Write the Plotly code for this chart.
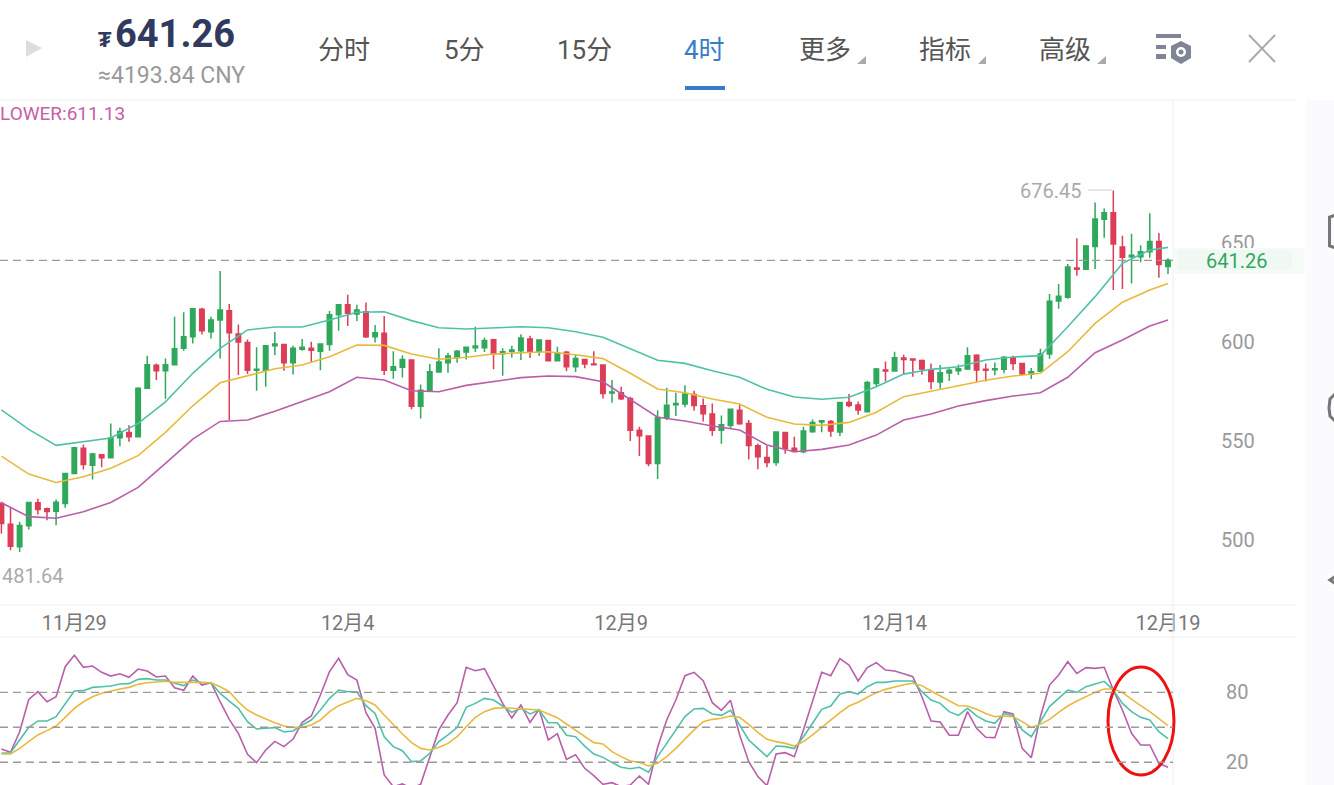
import pandas as pd
import plotly.graph_objects as go

# 4 hour candles, last one sits on the 12月19 tick
opens = [518.5,508.0,496.6,507.2,518.8,515.8,514.6,518.5,533.6,546.4,537.8,543.1,541.5,551.6,554.3,552.1,576.6,588.2,585.5,588.5,
         596.8,602.7,616.6,605.2,611.1,615.8,604.0,599.8,585.8,585.8,598.1,598.8,589.5,596.4,596.9,595.3,598.8,613.8,618.8,614.1,
         615.3,602.7,604.4,585.7,587.2,590.9,567.6,575.7,584.8,589.5,592.2,594.9,597.1,597.1,601.2,594.1,595.3,595.6,601.5,595.3,
         600.8,590.5,594.8,587.5,591.2,588.9,588.4,574.2,574.4,571.5,555.4,552.5,538.7,561.9,568.3,568.7,573.5,567.8,563.6,555.5,
         557.9,565.6,558.9,547.6,541.7,539.2,554.3,546.4,544.6,554.7,559.6,559.8,554.5,569.4,568.2,564.8,579.1,585.9,585.4,591.9,
         591.4,590.7,585.5,579.8,584.3,585.5,586.4,593.3,586.2,586.0,586.2,592.1,589.1,583.7,585.2,593.9,620.7,622.6,637.4,636.7,
         648.2,662.0,665.3,648.0,643.1,643.1,645.6,650.7,638.1]
highs = [519.3,516.4,509.2,519.3,520.8,516.4,520.5,533.6,547.1,548.3,544.1,543.1,558.9,556.7,558.0,577.1,593.1,589.2,591.7,612.8,
         615.0,616.8,617.3,612.8,635.8,619.2,608.9,601.3,597.3,598.5,605.0,598.8,598.1,601.5,600.1,599.0,615.6,619.2,623.9,618.8,
         620.0,608.6,613.1,595.3,593.2,590.9,578.6,588.9,596.9,594.6,595.9,597.6,607.7,602.3,601.7,596.9,598.1,603.9,603.2,601.0,
         600.8,597.6,595.6,593.4,591.2,595.3,588.7,580.8,577.4,572.4,557.2,552.5,565.6,576.9,574.4,578.1,575.4,571.5,569.0,562.9,
         566.0,568.3,560.6,548.8,547.6,554.8,554.3,552.2,557.2,560.9,560.6,560.6,569.5,573.7,569.9,580.3,586.9,590.1,595.1,593.6,
         591.8,591.2,589.2,588.4,586.7,588.6,597.3,593.8,589.2,589.6,592.9,593.1,589.2,586.9,596.6,624.3,629.3,639.4,652.4,649.0,
         670.4,667.4,676.45,653.7,654.6,648.8,665.0,655.1,642.3]
lows = [503.3,494.9,494.0,505.3,512.9,510.0,507.5,516.3,533.6,535.6,530.6,536.7,541.2,547.4,549.6,551.8,576.6,580.8,571.3,588.5,
        595.6,599.3,603.8,601.8,591.7,560.6,583.3,583.8,575.4,577.4,593.4,585.5,583.6,595.6,589.5,585.8,595.6,605.7,608.1,610.6,
        602.0,599.8,583.3,581.5,582.1,566.0,561.4,575.7,584.8,584.5,589.5,591.2,594.9,594.9,586.3,583.0,592.2,590.9,591.9,592.9,
        590.3,590.3,585.2,584.8,586.8,588.5,571.5,569.3,570.7,550.0,542.4,537.3,530.8,560.6,562.6,567.0,565.3,559.9,552.7,548.6,
        556.4,558.2,540.7,535.8,536.7,537.5,543.6,544.7,543.8,554.2,554.4,552.2,552.5,567.0,563.3,564.6,577.8,580.1,585.4,583.8,
        582.5,583.5,576.1,576.4,580.3,583.3,585.9,579.8,580.1,583.2,584.2,585.9,583.3,581.3,585.0,591.6,616.8,621.9,633.5,636.4,
        636.9,652.7,626.3,626.8,629.6,640.3,642.6,632.5,634.4]
closes = [508.4,496.9,507.4,519.0,515.4,514.4,519.1,533.6,546.6,538.2,543.4,541.5,551.5,554.8,552.1,576.7,588.5,585.5,588.5,596.6,
          602.7,616.8,605.7,611.1,616.1,604.7,600.0,585.7,586.3,598.1,599.0,589.5,596.9,597.3,595.8,599.0,613.8,618.8,614.5,616.1,
          602.7,604.7,585.7,587.5,591.2,567.6,575.7,585.0,589.9,592.9,595.3,597.3,598.0,600.8,593.9,595.1,595.9,602.0,594.8,601.0,
          590.5,594.3,587.5,591.7,588.9,588.5,574.0,574.7,571.4,555.5,552.7,538.7,561.9,568.1,569.0,573.7,568.0,563.8,555.5,558.2,
          566.0,558.7,547.8,542.0,539.2,554.5,546.3,544.7,555.0,559.3,560.3,555.0,569.5,568.0,565.7,579.6,586.4,585.4,592.1,591.2,
          590.9,586.4,580.0,584.5,585.7,586.5,593.1,585.9,585.7,586.5,592.3,589.2,583.8,585.0,593.9,620.6,623.1,637.9,636.7,648.5,
          662.1,665.3,649.5,642.8,643.8,645.6,650.7,639.1,641.26]

boll_upper = [565.7,555.9,547.8,549.6,551.5,558.9,569.8,584.2,596.8,606.1,607.6,607.6,611.1,615.0,615.3,610.8,607.2,606.6,607.2,607.7,
              607.2,605.2,602.4,596.8,590.8,589.2,585.5,582.2,576.1,572.2,571.1,572.1,577.4,583.8,586.2,587.5,590.9,592.4,593.1,607.7,
              622.9,639.7,646.5,647.8]
boll_mid = [542.4,533.3,529.1,532.0,536.2,542.6,554.4,567.8,579.4,583.0,586.5,588.4,592.6,598.5,598.3,593.9,591.3,592.3,593.9,594.6,
            595.1,593.6,591.6,584.2,576.3,574.4,571.2,568.7,562.0,558.6,557.9,559.4,564.5,572.4,575.3,577.9,580.7,582.8,584.2,595.1,
            609.4,620.1,626.3,629.6]
boll_lower = [518.8,511.8,511.0,514.3,519.0,526.6,538.7,551.0,559.9,560.6,565.0,569.8,574.9,582.2,580.8,575.4,574.9,578.1,579.9,582.0,
              582.8,582.5,579.9,571.1,562.0,560.1,557.6,555.6,548.0,544.6,545.8,548.0,553.0,560.6,563.6,567.7,570.4,572.7,574.4,582.2,
              594.6,601.0,608.1,611.13]

kdj_k = [27.7,28.2,39.1,49.9,55.4,55.4,59.1,70.5,81.1,81.4,84.2,84.8,85.4,87.1,87.4,91.1,91.7,90.5,90.5,87.7,
         85.7,90.5,88.2,88.2,79.1,72.5,66.2,54.8,48.5,49.1,49.7,45.9,46.8,51.9,56.2,64.8,74.8,81.9,80.5,80.5,
         68.5,61.9,41.9,33.4,29.9,20.5,21.1,27.7,37.7,43.4,49.7,67.1,70.5,74.8,73.4,68.2,62.8,66.2,61.4,64.8,
         53.9,53.9,43.1,41.9,33.9,27.1,24.2,19.7,15.7,14.5,15.7,11.4,24.8,36.2,47.7,59.1,65.7,66.2,61.4,60.2,
         64.5,51.9,39.1,31.9,24.8,33.9,33.4,31.7,41.9,53.4,65.4,68.2,78.5,80.5,78.5,84.8,88.5,88.5,89.7,89.7,
         89.7,80.5,73.4,70.5,63.4,60.2,66.2,59.7,55.4,53.4,61.9,59.7,47.7,41.9,54.8,67.7,74.8,81.9,79.9,84.8,
         87.1,89.4,81.9,70.5,63.4,58.5,56.2,46.2,40.2]
kdj_d = [27.1,27.1,31.9,37.7,43.4,47.1,51.1,58.5,66.2,71.9,76.2,79.1,81.1,82.8,84.2,86.8,88.2,89.1,89.4,88.5,
         88.2,88.5,88.5,88.2,84.8,80.5,71.9,64.8,60.5,57.1,53.9,51.1,49.9,49.9,51.9,56.2,63.4,68.5,71.9,74.8,
         72.8,69.1,60.5,51.9,44.2,36.8,31.9,30.5,32.8,36.2,41.9,50.5,58.5,63.4,66.2,66.8,66.2,65.7,64.8,64.8,
         61.4,58.2,52.8,47.7,42.5,36.8,35.7,29.1,24.8,21.1,19.9,16.8,19.1,24.8,31.9,39.9,47.7,54.8,56.8,57.7,
         59.7,58.5,52.5,45.7,39.7,37.7,36.2,33.9,37.7,43.4,49.9,56.2,62.5,68.2,71.4,75.7,79.7,82.5,84.8,86.5,
         87.7,85.7,81.1,76.8,72.5,68.5,68.2,65.4,61.9,59.1,59.7,59.1,54.8,49.9,52.5,56.8,62.8,68.2,72.5,76.2,
         79.9,82.8,82.8,79.7,74.0,68.5,63.4,57.7,51.4]
kdj_j = [31.4,28.5,46.2,73.9,80.5,71.9,76.2,101.9,111.7,101.4,102.5,97.1,93.9,95.9,92.8,99.9,98.2,93.1,93.9,83.9,
         81.7,93.9,86.2,88.2,71.9,56.8,44.8,26.8,19.7,30.5,37.9,33.4,39.9,54.2,59.7,77.7,97.7,109.1,95.1,90.5,
         62.5,49.1,9.1,-0.9,1.4,-2.3,1.1,24.8,47.7,60.5,71.1,101.4,98.5,100.2,84.8,70.5,57.9,69.1,54.2,65.4,
         39.1,44.5,22.5,26.5,14.8,8.5,1.1,2.5,-0.9,0.5,8.2,1.1,32.8,56.2,73.4,94.2,97.1,89.9,71.1,64.5,
         73.1,43.4,20.5,7.7,-0.1,27.1,28.2,24.8,47.7,73.4,97.1,94.2,108.8,103.4,89.7,101.1,105.4,99.1,98.2,95.9,
         93.4,76.2,55.4,54.5,43.1,43.1,63.4,49.1,41.4,41.1,63.4,61.4,31.9,23.9,59.1,86.2,94.8,106.2,96.2,101.1,
         100.5,101.4,81.9,64.8,44.8,34.8,34.8,19.1,15.7]

price_ticks = [500, 550, 600, 650]
kdj_ticks = [20, 80]
kdj_levels = [20, 50, 80]
date_ticks = ["2017-11-29", "2017-12-04", "2017-12-09", "2017-12-14", "2017-12-19"]
date_labels = ["11月29", "12月4", "12月9", "12月14", "12月19"]
last_price = 641.26

menu_items = ["分时", "5分", "15分", "4时", "更多", "指标", "高级"]
menu_centers = [344, 464, 584, 704, 825, 945, 1065]

WIDTH = 1334
HEIGHT = 785
CJK = "Roboto, 'Noto Sans CJK SC', sans-serif"
GREEN = "#2fa85c"
RED = "#dc3d57"
TEAL = "#4fc1a9"
YELLOW = "#e8b93c"
PURPLE = "#b95fa9"
GREY = "#9a9a9a"
LINE = "#eeeeee"


# screen pixel to paper fraction
def px(x):
    return x / WIDTH


def py(y):
    return 1 - y / HEIGHT


def poly(points, close=True):
    path = "M" + " L".join(f"{px(x):.5f},{py(y):.5f}" for x, y in points)
    return path + (" Z" if close else "")


def label(x, y, text, size, color, anchor="center", weight=None):
    return dict(x=px(x), y=py(y), xref="paper", yref="paper", text=text, showarrow=False, xanchor=anchor,
                yanchor="middle", font=dict(family=CJK, size=size, color=color, weight=weight))


def rect(x0, y0, x1, y1, color):
    return dict(type="rect", xref="paper", yref="paper", x0=px(x0), x1=px(x1), y0=py(y0), y1=py(y1),
                fillcolor=color, line_width=0, layer="above")


def seg(x0, y0, x1, y1, color, width=1):
    return dict(type="line", xref="paper", yref="paper", x0=px(x0), x1=px(x1), y0=py(y0), y1=py(y1),
                line=dict(color=color, width=width), layer="above")


def shape_path(points, fill=None, line=None, width=0, close=True):
    return dict(type="path", xref="paper", yref="paper", path=poly(points, close), fillcolor=fill,
                line=dict(color=line, width=width), layer="above")


dates = pd.date_range(end="2017-12-19", periods=len(closes), freq="4h")
boll_dates = list(dates[::3]) + [dates[-1]]

fig = go.Figure()
fig.add_trace(go.Candlestick(x=dates, open=opens, high=highs, low=lows, close=closes,
                             increasing=dict(line=dict(color=GREEN, width=1.5), fillcolor=GREEN),
                             decreasing=dict(line=dict(color=RED, width=1.5), fillcolor=RED),
                             whiskerwidth=0, showlegend=False))
for values, color in [(boll_upper, TEAL), (boll_mid, YELLOW), (boll_lower, PURPLE)]:
    fig.add_trace(go.Scatter(x=boll_dates, y=values, mode="lines", line=dict(color=color, width=1.6), showlegend=False))
for values, color in [(kdj_j, PURPLE), (kdj_k, TEAL), (kdj_d, YELLOW)]:
    fig.add_trace(go.Scatter(x=dates, y=values, mode="lines", xaxis="x2", yaxis="y2",
                             line=dict(color=color, width=1.6), showlegend=False))

shapes = [
    # faint strip of the page behind
    rect(1306, 100, 1334, 785, "#fbfbfd"),
    # panel borders
    seg(0, 100, 1295, 100, LINE), seg(0, 605, 1295, 605, LINE), seg(0, 637, 1295, 637, LINE),
    seg(1173, 100, 1173, 785, LINE),
    # current price band, covers the bottom of the 650 label
    rect(1173, 248, 1305, 274, "#f6fbf8"),
    rect(1178, 250, 1292, 270, "#eff8f3"),
    # play triangle
    shape_path([(26, 40), (42, 48), (26, 57)], fill="#dddddd"),
    # active tab underline
    rect(685, 86, 725, 90, "#3a7bc8"),
    # dropdown corners
    shape_path([(866, 56), (866, 64), (857, 64)], fill="#aaaaaa"),
    shape_path([(986, 56), (986, 64), (978, 64)], fill="#aaaaaa"),
    shape_path([(1106, 56), (1106, 64), (1097, 64)], fill="#aaaaaa"),
    # settings icon
    rect(1156, 34, 1181, 38, "#7f8496"), rect(1156, 45, 1166, 49, "#7f8496"), rect(1156, 54, 1166, 59, "#7f8496"),
    shape_path([(1181, 41), (1191, 46), (1191, 58), (1181, 64), (1171, 58), (1171, 46)], fill="#7f8496"),
    dict(type="circle", xref="paper", yref="paper", x0=px(1176), x1=px(1186), y0=py(47), y1=py(57),
         fillcolor="white", line_width=0, layer="above"),
    dict(type="circle", xref="paper", yref="paper", x0=px(1178.5), x1=px(1183.5), y0=py(49.5), y1=py(54.5),
         fillcolor="#7f8496", line_width=0, layer="above"),
    # close cross
    seg(1249, 35, 1275, 62, "#aaaaaa", 2), seg(1275, 35, 1249, 62, "#aaaaaa", 2),
    # high marker
    seg(1088, 190, 1112, 190, "#cccccc"),
    # screenshot mark
    dict(type="circle", xref="paper", yref="paper", x0=px(1108), x1=px(1174), y0=py(667), y1=py(775),
         line=dict(color="#f01010", width=3), layer="above"),
    # edge of the page behind
    shape_path([(1336, 215), (1329.5, 217), (1329.5, 246), (1336, 248)], line="#777777", width=3, close=False),
    shape_path([(1336, 393), (1330, 399), (1329, 408), (1330, 416), (1336, 422)], line="#777777", width=3, close=False),
    shape_path([(1336, 576), (1330, 580), (1336, 584)], line="#777777", width=3, close=False),
    # dashed last price
    dict(type="line", xref="paper", yref="y", x0=0, x1=px(1173), y0=last_price, y1=last_price,
         line=dict(color=GREY, width=1.3, dash="8px,5px")),
]
for level in kdj_levels:
    shapes.append(dict(type="line", xref="paper", yref="y2", x0=0, x1=px(1173), y0=level, y1=level,
                       line=dict(color=GREY, width=1.3, dash="8px,5px")))

annotations = [
    label(96, 40, "₮", 22, "#2f3a5e", "left", "bold"),
    label(113, 34, "641.26", 38, "#2f3a5e", "left", "bold"),
    label(96, 76, "≈4193.84 CNY", 23, "#999999", "left"),
    label(127, 114, "LOWER:611.13", 19, "#c75fa5", "right"),
    label(1083, 191, "676.45", 20, "#aaaaaa", "right"),
    label(0, 576, "481.64", 20, "#aaaaaa", "left"),
    label(1236, 261, "641.26", 20, GREEN),
]
for name, center in zip(menu_items, menu_centers):
    color = "#3a7bc8" if name == "4时" else "#555555"
    annotations.append(label(center, 50, name, 26, color))

span = pd.Timedelta(hours=4) / 9.114
fig.update_layout(
    width=WIDTH, height=HEIGHT, autosize=False,
    margin=dict(l=0, r=0, t=0, b=0, autoexpand=False),
    paper_bgcolor="white", plot_bgcolor="white",
    shapes=shapes, annotations=annotations,
    xaxis=dict(domain=[0, px(1173)], anchor="y", type="date",
               range=[dates[-1] - span * 1168, dates[-1] + span * 5],
               rangeslider=dict(visible=False), showgrid=False, zeroline=False, showline=False,
               tickmode="array", tickvals=date_ticks, ticktext=date_labels, ticks="",
               ticklabelstandoff=4, tickfont=dict(family=CJK, size=20, color="#777777")),
    xaxis2=dict(domain=[0, px(1173)], anchor="y2", matches="x", visible=False),
    yaxis=dict(domain=[py(605), py(100)], anchor="x", side="right", range=[467.2, 722.2],
               showgrid=False, zeroline=False, showline=False, tickmode="array", tickvals=price_ticks, ticks="",
               ticklabelstandoff=47, tickfont=dict(family=CJK, size=20, color="#999999")),
    yaxis2=dict(domain=[0, py(637)], anchor="x2", side="right", range=[0.5, 127.4],
                showgrid=False, zeroline=False, showline=False, tickmode="array", tickvals=kdj_ticks, ticks="",
                ticklabelstandoff=52, tickfont=dict(family=CJK, size=20, color="#999999")),
)

fig.write_html("out.html", config={"displayModeBar": False},
               post_script="document.body.style.margin='0';document.body.style.overflow='hidden';")
